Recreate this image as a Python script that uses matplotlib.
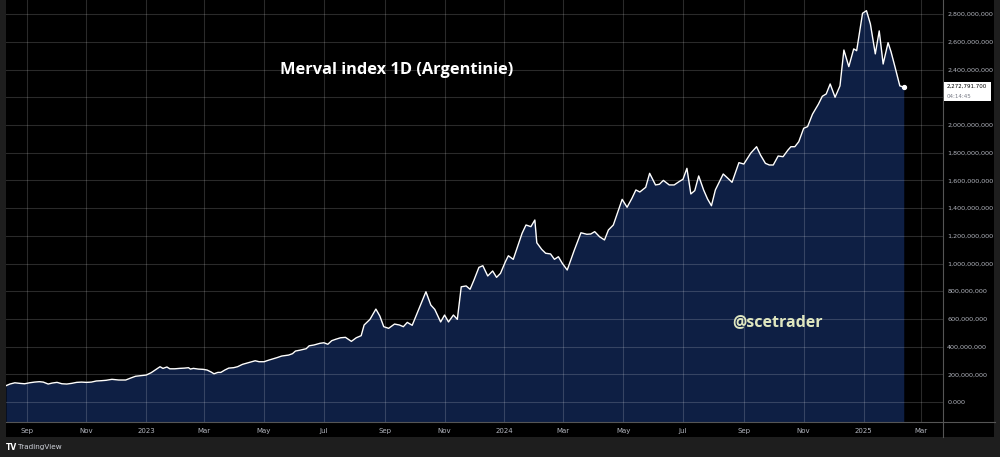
import numpy as np
import matplotlib
matplotlib.use("Agg")
import matplotlib.pyplot as plt
from matplotlib.patches import Rectangle
from matplotlib.lines import Line2D

# ---------------- data ----------------
start_date = "2022-08-11"
day_offsets = [
    0, 4, 9, 14, 19, 24, 29, 34, 38, 43, 47, 52, 57, 62, 67, 72, 77, 82, 87, 92,
    97, 102, 108, 115, 122, 127, 132, 137, 143, 148, 152, 157, 160, 164, 167, 172,
    177, 182, 186, 188, 191, 196, 201, 205, 209, 212, 216, 219, 223, 227, 232, 236,
    241, 247, 254, 258, 263, 268, 276, 281, 288, 292, 295, 300, 306, 309, 314, 320,
    324, 328, 332, 336, 341, 346, 352, 357, 362, 365, 371, 377, 381, 385, 390, 396,
    401, 405, 409, 414, 419, 428, 433, 437, 443, 447, 451, 456, 460, 464, 469, 473,
    477, 482, 486, 491, 496, 500, 504, 509, 512, 517, 522, 526, 530, 535, 539, 541,
    546, 550, 555, 559, 563, 567, 572, 579, 586, 592, 596, 600, 605, 610, 614, 619,
    628, 633, 638, 642, 646, 652, 656, 662, 666, 670, 676, 681, 686, 690, 694, 698,
    702, 706, 711, 715, 719, 723, 731, 735, 740, 747, 752, 759, 765, 769, 774, 778,
    782, 787, 792, 797, 800, 804, 808, 813, 817, 822, 828, 832, 836, 840, 845, 850,
    854, 859, 864, 867, 873, 877, 881, 886, 890, 894, 899, 902, 906, 911, 915,
]
merval_millions = [
    118, 130, 139, 135, 132, 139, 144, 147, 144, 130, 137, 142, 132, 130, 135, 142, 144, 142, 144, 152,
    154, 157, 164, 159, 159, 173, 186, 190, 195, 212, 231, 255, 243, 253, 240, 240,
    243, 245, 248, 238, 243, 238, 236, 231, 217, 204, 214, 214, 231, 245, 248, 255,
    272, 284, 298, 291, 291, 303, 320, 332, 339, 349, 368, 375, 385, 406, 412, 424,
    428, 417, 443, 453, 464, 467, 438, 464, 479, 556, 597, 671, 621, 544, 532, 563,
    556, 544, 575, 554, 640, 796, 700, 669, 578, 628, 578, 628, 597, 832, 838, 814,
    881, 972, 984, 910, 946, 900, 929, 1013, 1056, 1030, 1134, 1218, 1278, 1266, 1314, 1150,
    1102, 1074, 1069, 1030, 1049, 1001, 953, 1092, 1222, 1211, 1213, 1230, 1193, 1170, 1242, 1278,
    1463, 1406, 1471, 1531, 1516, 1550, 1651, 1567, 1572, 1600, 1567, 1567, 1591, 1608, 1687, 1502,
    1526, 1632, 1531, 1466, 1417, 1531, 1646, 1620, 1586, 1728, 1718, 1796, 1843, 1783, 1723, 1711,
    1711, 1776, 1771, 1819, 1843, 1843, 1879, 1976, 1988, 2078, 2150, 2207, 2224, 2296, 2200, 2282,
    2541, 2421, 2549, 2536, 2806, 2825, 2729, 2513, 2679, 2440, 2594, 2529, 2421, 2282, 2273,
]
x_tick_dates = ["2022-09-01", "2022-11-01", "2023-01-01", "2023-03-01", "2023-05-01",
                "2023-07-01", "2023-09-01", "2023-11-01", "2024-01-01", "2024-03-01",
                "2024-05-01", "2024-07-01", "2024-09-01", "2024-11-01", "2025-01-01",
                "2025-03-01"]
x_tick_labels = ["Sep", "Nov", "2023", "Mar", "May", "Jul", "Sep", "Nov", "2024", "Mar",
                 "May", "Jul", "Sep", "Nov", "2025", "Mar"]
y_tick_values = [0, 200e6, 400e6, 600e6, 800e6, 1000e6, 1200e6, 1400e6, 1600e6,
                 1800e6, 2000e6, 2200e6, 2400e6, 2600e6, 2800e6]
# the 2,200,000,000 label sits under the last-price tag in the reference
y_tick_labels = ["0.000", "200,000,000", "400,000,000", "600,000,000", "800,000,000",
                 "1,000,000,000", "1,200,000,000", "1,400,000,000", "1,600,000,000",
                 "1,800,000,000", "2,000,000,000", "", "2,400,000,000", "2,600,000,000",
                 "2,800,000,000"]
x_range = ["2022-08-11", "2025-03-23"]
y_range = [-144e6, 2902e6]
title_text = "Merval index 1D (Argentinie)"
watermark = "@scetrader"
last_price_label = "2,272,791.700"
countdown_label = "04:14:45"

# ---------------- prepare ----------------
dates = np.datetime64(start_date) + np.array(day_offsets).astype("timedelta64[D]")
dates = dates.astype("datetime64[D]").astype(object)
values = np.array(merval_millions, dtype=float) * 1e6

W, H = 1000, 457
fig = plt.figure(figsize=(W / 100, H / 100), dpi=100, facecolor="#1e1e1e")

# black chart background (plot pane + axis bands)
fig.patches.append(Rectangle((6 / W, 20 / H), 988 / W, 437 / H, transform=fig.transFigure,
                             facecolor="black", edgecolor="none", zorder=-5))

ax = fig.add_axes([6 / W, 35 / H, 937 / W, 422 / H])
ax.set_zorder(1)
ax.set_facecolor("black")

ax.set_xlim(np.datetime64(x_range[0]).astype(object), np.datetime64(x_range[1]).astype(object))
ax.set_ylim(*y_range)

fill_color = "#0e1f44"
ax.fill_between(dates, values, y_range[0], color=fill_color, linewidth=0, zorder=1)
ax.plot(dates, values, color="white", linewidth=1.0, zorder=4, solid_joinstyle="round")
ax.plot(dates[-1], values[-1], "o", color="white", markersize=2.8, zorder=5)

# ticks
ax.set_xticks([np.datetime64(d).astype(object) for d in x_tick_dates])
ax.set_xticklabels(x_tick_labels)
ax.set_yticks(y_tick_values)
ax.set_yticklabels(y_tick_labels)
ax.yaxis.tick_right()
ax.tick_params(axis="y", length=0, pad=3, labelsize=4.6, labelcolor="#b2b5be")
ax.tick_params(axis="x", length=0, pad=4, labelsize=5.0, labelcolor="#b2b5be")

ax.grid(True, color="white", alpha=0.17, linewidth=0.8)
ax.set_axisbelow(False)
for gl in ax.get_xgridlines() + ax.get_ygridlines():
    gl.set_zorder(3)
for s in ax.spines.values():
    s.set_visible(False)

# separator lines
fig.lines.append(Line2D([6 / W, 995 / W], [35 / H, 35 / H], transform=fig.transFigure,
                        color="#555555", linewidth=0.8, zorder=2))
fig.lines.append(Line2D([943 / W, 943 / W], [20 / H, 1], transform=fig.transFigure,
                        color="#555555", linewidth=0.8, zorder=2))

# texts
ax.text(0.2925, 1 - 70 / 422, title_text, transform=ax.transAxes, color="white",
        fontsize=11.8, fontweight="bold", family="Open Sans", ha="left", va="center", zorder=6)
ax.text(0.775, 1 - 322 / 422, watermark, transform=ax.transAxes, color="#dfe6c0",
        fontsize=11.5, fontweight="bold", family="Open Sans", ha="left", va="center", zorder=6)

# last price label box
fig.patches.append(Rectangle((944 / W, (H - 101) / H), 47 / W, 19 / H, transform=fig.transFigure,
                             facecolor="white", edgecolor="none", zorder=5))
fig.text(946.5 / W, (H - 86.3) / H, last_price_label, color="black", fontsize=4.0,
         ha="left", va="center", zorder=6)
fig.text(946.5 / W, (H - 96.0) / H, countdown_label, color="#787b86", fontsize=4.0,
         ha="left", va="center", zorder=6)

# TradingView footer
fig.text(6 / W, (H - 447) / H, "TV", color="white", fontsize=5.5, fontweight="bold",
         ha="left", va="center")
fig.text(18 / W, (H - 447) / H, "TradingView", color="#d1d4dc", fontsize=5.2,
         ha="left", va="center")

fig.savefig("out.png", dpi=100, facecolor=fig.get_facecolor())
